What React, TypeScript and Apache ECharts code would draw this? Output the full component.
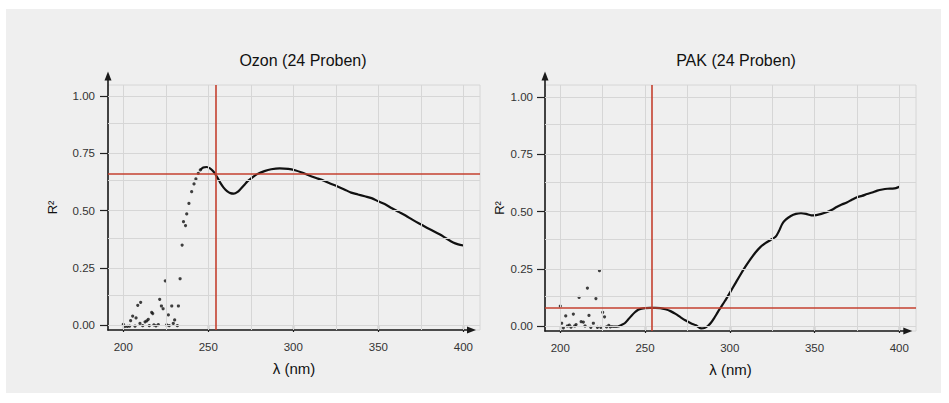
import React, { useEffect, useRef } from "react";
import * as echarts from "echarts";

// ---------- data ----------
const titles = ["Ozon (24 Proben)", "PAK (24 Proben)"];
const xAxisName = "λ (nm)";
const yAxisName = "R²";
const xTicks = [200, 250, 300, 350, 400];
const yTicks = [0, 0.25, 0.5, 0.75, 1.0];
const xGridValues = [200, 225, 250, 275, 300, 325, 350, 375, 400];
const yGridValues = [0, 0.125, 0.25, 0.375, 0.5, 0.625, 0.75, 0.875, 1.0];

// Ozon: scattered points at short wavelengths and the rising flank
const ozonPoints: number[][] = [
  [200, 0.003], [201, -0.006], [202.4, -0.006], [203.7, -0.005], [204.3, 0.019],
  [205.5, 0.039], [206.9, -0.005], [207.5, 0.031], [208.5, 0.086], [209.8, 0.007],
  [210.2, 0.099], [211.4, -0.003], [212.8, 0.014], [213.8, 0.018], [214.7, 0.025],
  [215.3, -0.003], [216.7, 0.055], [217.3, 0.05], [218, 0.001], [219.2, -0.004],
  [220.6, 0.002], [221.4, 0.112], [222.4, 0.083], [223.4, 0.071], [224.7, 0.193],
  [225.5, 0.0], [226.5, 0.044], [227, -0.003], [228.5, 0.083], [229.4, 0.007],
  [230.2, 0.022], [231.8, -0.003], [232.4, 0.083], [233.4, 0.202], [234.6, 0.349],
  [235.4, 0.451], [236.6, 0.434], [237.3, 0.485], [238.6, 0.531], [240.2, 0.582],
  [241.6, 0.616], [242.7, 0.638], [244.1, 0.662], [245.3, 0.677],
];
// Ozon: continuous curve
const ozonCurve: number[][] = [
  [245.3, 0.677], [247, 0.688], [249, 0.69], [251, 0.684], [253, 0.67], [255, 0.648],
  [257, 0.622], [259, 0.6], [261, 0.585], [263, 0.576], [265, 0.574], [267, 0.58],
  [269, 0.594], [271, 0.61], [273, 0.627], [276, 0.645], [279, 0.66], [283, 0.672],
  [287, 0.68], [292, 0.684], [297, 0.682], [301, 0.676], [305, 0.666], [309, 0.654],
  [313, 0.643], [318, 0.63], [322, 0.617], [326, 0.605], [330, 0.592], [334, 0.578],
  [338, 0.57], [342, 0.562], [346, 0.554], [350, 0.54], [354, 0.527], [358, 0.51],
  [362, 0.494], [366, 0.478], [370, 0.46], [374, 0.443], [378, 0.427], [382, 0.412],
  [386, 0.396], [390, 0.378], [394, 0.36], [397, 0.352], [400, 0.347],
];
const ozonRefWavelength = 254.3;
const ozonRefR2 = 0.659;

// PAK: scattered points at short wavelengths
const pakPoints: number[][] = [
  [200, 0.087], [200.8, 0.012], [201.8, -0.008], [203.2, 0.044], [204.2, 0.0],
  [205.3, 0.004], [206.3, -0.005], [207.7, 0.052], [208.5, 0.0], [209.3, 0.006],
  [211.1, 0.125], [212.3, 0.019], [213.6, 0.017], [214.6, 0.0], [216, 0.166],
  [216.9, 0.046], [218, -0.006], [219.5, 0.012], [221, 0.12], [221.9, -0.006],
  [223.1, 0.242], [223.9, -0.006], [225, 0.06], [226.1, 0.04], [227.3, -0.004],
  [228.6, 0.003], [229.5, -0.004],
];
// PAK: continuous curve
const pakCurve: number[][] = [
  [230, -0.002], [232, -0.003], [234, -0.002], [236, 0.004], [238, 0.012], [240, 0.028],
  [242, 0.045], [244, 0.06], [246, 0.071], [248, 0.076], [250, 0.078], [253, 0.079],
  [256, 0.079], [259, 0.078], [262, 0.073], [265, 0.065], [268, 0.053], [271, 0.038],
  [274, 0.024], [277, 0.012], [280, 0.003], [283, -0.01], [285, -0.009], [287, 0.0],
  [289, 0.015], [291, 0.037], [293, 0.062], [295, 0.085], [297, 0.108], [300, 0.145],
  [303, 0.183], [306, 0.221], [309, 0.257], [312, 0.29], [315, 0.32], [318, 0.345],
  [321, 0.362], [324, 0.376], [327, 0.39], [329, 0.415], [331, 0.447], [333, 0.465],
  [336, 0.481], [339, 0.49], [342, 0.493], [345, 0.49], [348, 0.484], [351, 0.485],
  [354, 0.49], [357, 0.497], [360, 0.507], [363, 0.52], [366, 0.531], [369, 0.54],
  [372, 0.552], [375, 0.563], [378, 0.569], [381, 0.577], [384, 0.584], [387, 0.592],
  [390, 0.597], [393, 0.6], [396, 0.601], [398, 0.603], [400, 0.609],
];
const pakRefWavelength = 253.7;
const pakRefR2 = 0.076;

// ---------- layout / style ----------
const FONT = "'Liberation Sans', Arial, Helvetica, sans-serif";
const PANEL = "#efefef";
const GRIDLINE = "#d6d6d6";
const RED = "#c4402f";
const INK = "#111111";

type PanelLayout = {
  box: { left: number; top: number; width: number; height: number };
  axes: { left: number; top: number; width: number; height: number };
  xRange: [number, number];
  yRange: [number, number];
  titleX: number;
  yNameGap: number;
  yLabelMargin: number;
};

const layouts: PanelLayout[] = [
  {
    box: { left: 108, top: 85, width: 372, height: 245 },
    axes: { left: 108, top: 76, width: 363.5, height: 254 },
    xRange: [191.0, 409.8],
    yRange: [-0.0218, 1.048],
    titleX: 298,
    yNameGap: 49,
    yLabelMargin: 13,
  },
  {
    box: { left: 545, top: 85, width: 371, height: 246 },
    axes: { left: 545, top: 76, width: 362.8, height: 255 },
    xRange: [190.97, 409.85],
    yRange: [-0.0219, 1.0538],
    titleX: 731,
    yNameGap: 39,
    yLabelMargin: 12,
  },
];

function buildOption() {
  const grid: any[] = [];
  const xAxis: any[] = [];
  const yAxis: any[] = [];
  const series: any[] = [];
  const title: any[] = [];

  const panels = [
    { points: ozonPoints, curve: ozonCurve, refX: ozonRefWavelength, refY: ozonRefR2 },
    { points: pakPoints, curve: pakCurve, refX: pakRefWavelength, refY: pakRefR2 },
  ];

  layouts.forEach((L, i) => {
    const a = i * 2; // data grid index
    const b = i * 2 + 1; // arrow-axis grid index

    grid.push({
      ...L.box,
      show: true,
      borderColor: GRIDLINE,
      borderWidth: 1,
      backgroundColor: "transparent",
      containLabel: false,
    });
    grid.push({ ...L.axes, show: false, containLabel: false });

    title.push({
      text: titles[i],
      left: L.titleX,
      top: 47,
      textAlign: "center",
      textStyle: { fontFamily: FONT, fontSize: 16, fontWeight: "normal", color: INK },
    });

    // data axes (ticks, labels, names)
    xAxis.push({
      type: "value",
      gridIndex: a,
      min: L.xRange[0],
      max: L.xRange[1],
      axisLine: { show: false },
      axisTick: {
        show: true,
        customValues: xTicks,
        length: 7,
        lineStyle: { color: "#222", width: 1.2 },
      },
      axisLabel: {
        show: true,
        customValues: xTicks,
        margin: 11,
        fontFamily: FONT,
        fontSize: 11.5,
        color: "#333",
        formatter: (v: number) => String(v),
      },
      splitLine: { show: false },
      name: xAxisName,
      nameLocation: "middle",
      nameGap: 31,
      nameTextStyle: { fontFamily: FONT, fontSize: 15, color: INK },
    });
    yAxis.push({
      type: "value",
      gridIndex: a,
      min: L.yRange[0],
      max: L.yRange[1],
      axisLine: { show: false },
      axisTick: {
        show: true,
        customValues: yTicks,
        length: 8,
        lineStyle: { color: "#222", width: 1.2 },
      },
      axisLabel: {
        show: true,
        customValues: yTicks,
        margin: L.yLabelMargin,
        fontFamily: FONT,
        fontSize: 11.5,
        color: "#333",
        formatter: (v: number) => v.toFixed(2),
      },
      splitLine: { show: false },
      name: yAxisName,
      nameLocation: "middle",
      nameGap: L.yNameGap,
      nameTextStyle: { fontFamily: FONT, fontSize: 13, color: INK },
    });

    // arrow axis lines
    const arrowLine = {
      show: true,
      symbol: ["none", "triangle"],
      symbolSize: [7, 9],
      lineStyle: { color: "#1a1a1a", width: 1.6 },
    };
    xAxis.push({
      type: "value",
      gridIndex: b,
      min: 0,
      max: 1,
      axisLine: arrowLine,
      axisTick: { show: false },
      axisLabel: { show: false },
      splitLine: { show: false },
    });
    yAxis.push({
      type: "value",
      gridIndex: b,
      min: 0,
      max: 1,
      axisLine: arrowLine,
      axisTick: { show: false },
      axisLabel: { show: false },
      splitLine: { show: false },
    });

    // grid lines
    series.push({
      type: "line",
      xAxisIndex: a,
      yAxisIndex: a,
      data: [],
      silent: true,
      z: 1,
      markLine: {
        silent: true,
        symbol: ["none", "none"],
        label: { show: false },
        lineStyle: { color: GRIDLINE, width: 1, type: "solid" },
        emphasis: { disabled: true },
        data: [
          ...xGridValues.map((v) => ({ xAxis: v })),
          ...yGridValues.map((v) => ({ yAxis: v })),
        ],
      },
    });

    const P = panels[i];
    // scattered points
    series.push({
      type: "scatter",
      xAxisIndex: a,
      yAxisIndex: a,
      data: P.points,
      symbol: "circle",
      symbolSize: 3.2,
      itemStyle: { color: INK },
      z: 4,
      silent: true,
    });
    // curve
    series.push({
      type: "line",
      xAxisIndex: a,
      yAxisIndex: a,
      data: P.curve,
      showSymbol: false,
      smooth: 0.3,
      lineStyle: { color: INK, width: 2.2 },
      z: 4,
      silent: true,
    });
    // red reference lines
    series.push({
      type: "line",
      xAxisIndex: a,
      yAxisIndex: a,
      data: [],
      silent: true,
      z: 3,
      markLine: {
        silent: true,
        symbol: ["none", "none"],
        label: { show: false },
        lineStyle: { color: RED, width: 1.6, type: "solid" },
        emphasis: { disabled: true },
        data: [{ xAxis: P.refX }, { yAxis: P.refY }],
      },
    });
  });

  return {
    animation: false,
    backgroundColor: "transparent",
    textStyle: { fontFamily: FONT },
    title,
    grid,
    xAxis,
    yAxis,
    series,
  };
}

export default function App() {
  const ref = useRef<HTMLDivElement>(null);
  useEffect(() => {
    if (!ref.current) return;
    const chart = echarts.init(ref.current, undefined, { renderer: "svg" });
    chart.setOption(buildOption() as any);
    return () => chart.dispose();
  }, []);
  return (
    <div
      style={{
        position: "fixed",
        left: 0,
        top: 0,
        width: 949,
        height: 403,
        background: "#ffffff",
      }}
    >
      <div
        style={{
          position: "absolute",
          left: 6,
          top: 9,
          width: 935,
          height: 384,
          background: PANEL,
        }}
      />
      <div ref={ref} style={{ position: "absolute", left: 0, top: 0, width: 949, height: 403 }} />
    </div>
  );
}
